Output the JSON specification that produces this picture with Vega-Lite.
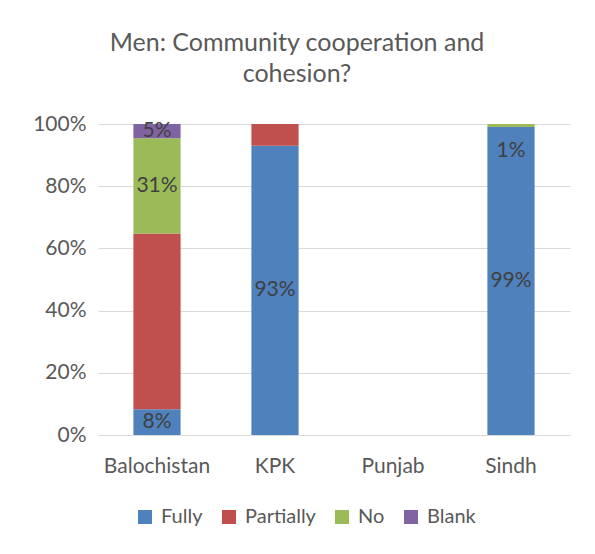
{
  "$schema": "https://vega.github.io/schema/vega-lite/v6.json",
  "autosize": "none",
  "width": 472,
  "height": 311,
  "padding": {"left": 98, "top": 124, "right": 25, "bottom": 119},
  "background": "white",
  "config": {
    "font": "Lato",
    "view": {"stroke": null},
    "axis": {"labelColor": "#595959", "labelFontSize": 21, "labelFont": "Lato", "titleColor": "#595959"},
    "legend": {"labelColor": "#595959", "labelFontSize": 20, "labelFont": "Lato"}
  },
  "title": {
    "text": ["Men: Community cooperation and", "cohesion?"],
    "fontSize": 25,
    "fontWeight": "normal",
    "color": "#595959",
    "font": "Lato",
    "lineHeight": 31,
    "anchor": "middle",
    "dx": -37,
    "offset": 26
  },
  "data": {
    "values": [
      {"region": "Balochistan", "answer": "Fully", "value": 8.3, "label": "8%"},
      {"region": "Balochistan", "answer": "Partially", "value": 56.5, "label": ""},
      {"region": "Balochistan", "answer": "No", "value": 30.6, "label": "31%"},
      {"region": "Balochistan", "answer": "Blank", "value": 4.6, "label": "5%"},
      {"region": "KPK", "answer": "Fully", "value": 93, "label": "93%"},
      {"region": "KPK", "answer": "Partially", "value": 7, "label": ""},
      {"region": "Sindh", "answer": "Fully", "value": 99, "label": "99%"},
      {"region": "Sindh", "answer": "No", "value": 1, "label": "1%"}
    ]
  },
  "transform": [
    {"calculate": "indexof(['Fully','Partially','No','Blank'], datum.answer)", "as": "rank"},
    {"stack": "value", "groupby": ["region"], "sort": [{"field": "rank", "order": "ascending"}], "as": ["v0", "v1"]},
    {"calculate": "(datum.v0 + datum.v1) / 2", "as": "mid"}
  ],
  "encoding": {
    "x": {
      "field": "region",
      "type": "nominal",
      "title": null,
      "scale": {"domain": ["Balochistan", "KPK", "Punjab", "Sindh"], "paddingInner": 0.6, "paddingOuter": 0.3},
      "axis": {"labelAngle": 0, "ticks": false, "domainColor": "#d9d9d9", "domainWidth": 1, "labelPadding": 20}
    }
  },
  "layer": [
    {
      "mark": {"type": "bar"},
      "encoding": {
        "y": {
          "field": "v1",
          "type": "quantitative",
          "title": null,
          "scale": {"domain": [0, 100]},
          "axis": {"values": [0, 20, 40, 60, 80, 100], "labelExpr": "datum.value + '%'", "ticks": false, "domain": false, "gridColor": "#d9d9d9", "gridWidth": 1, "labelPadding": 12}
        },
        "y2": {"field": "v0"},
        "color": {
          "field": "answer",
          "type": "nominal",
          "title": null,
          "scale": {"domain": ["Fully", "Partially", "No", "Blank"], "range": ["#4f81bd", "#c0504d", "#9bbb59", "#8064a2"]},
          "legend": {"orient": "none", "legendX": 37, "legendY": 383, "direction": "horizontal", "symbolType": "square", "symbolSize": 196, "symbolStrokeWidth": 0, "columnPadding": 16, "labelOffset": 6}
        }
      }
    },
    {
      "transform": [{"filter": "!(datum.region == 'Sindh' && datum.answer == 'No')"}],
      "mark": {"type": "text", "fontSize": 21, "color": "#404040", "font": "Lato", "baseline": "middle"},
      "encoding": {
        "y": {"field": "mid", "type": "quantitative"},
        "text": {"field": "label"}
      }
    },
    {
      "transform": [{"filter": "datum.region == 'Sindh' && datum.answer == 'No'"}],
      "mark": {"type": "text", "fontSize": 21, "color": "#404040", "font": "Lato", "baseline": "middle", "dy": 25},
      "encoding": {
        "y": {"field": "mid", "type": "quantitative"},
        "text": {"field": "label"}
      }
    }
  ]
}
